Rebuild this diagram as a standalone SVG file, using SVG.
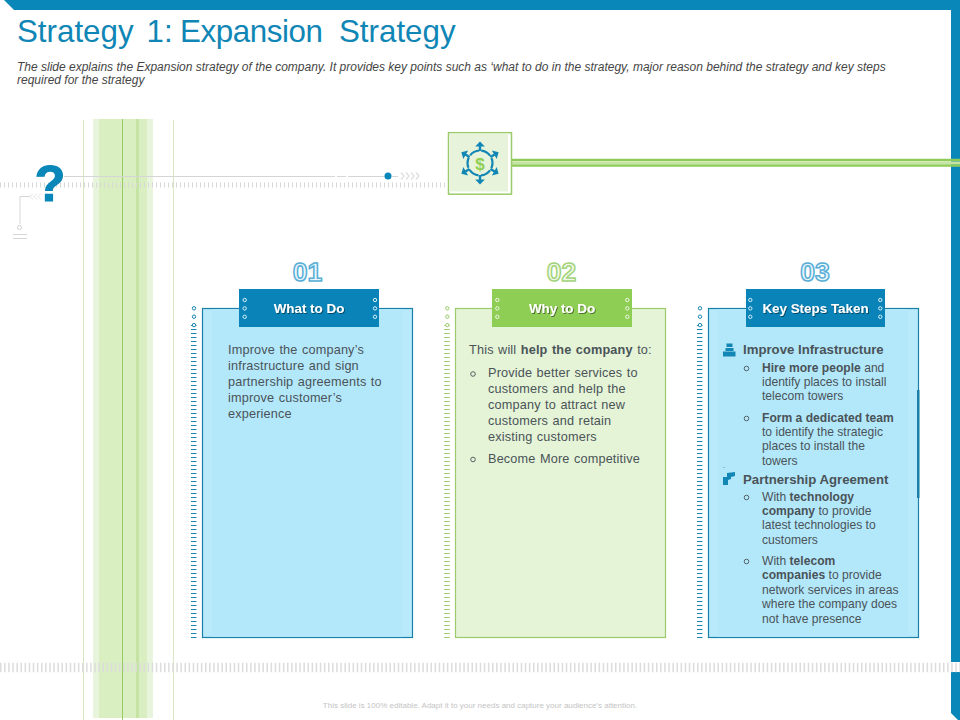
<svg xmlns="http://www.w3.org/2000/svg" width="960" height="720" viewBox="0 0 960 720">
<style>
text{font-family:"Liberation Sans",Arial,sans-serif}
.title{font-size:31.300px;fill:#0f86b5}
.sub{font-size:12px;font-style:italic;fill:#454545}
.b{font-size:12.700px;fill:#4a5358;word-spacing:.7px;letter-spacing:.17px}
.s{font-size:12.100px;fill:#4a5358}
.h{font-size:13.200px;font-weight:bold;fill:#4a5358}
.hd{font-size:13.400px;font-weight:bold;fill:#fff;text-anchor:middle;filter:url(#sh)}
.num{font-size:26.500px;font-weight:bold;text-anchor:middle;stroke-width:1.500px}
.bl{fill:none;stroke:#4a5358;stroke-width:.9}
</style>
<defs>
<filter id="sh" x="-10%" y="-20%" width="120%" height="150%"><feDropShadow dx="1" dy="1" stdDeviation=".5" flood-color="#000" flood-opacity=".45"/></filter>
<g id="dots"><circle cx="0" cy="0" r="1.700"/><circle cx="0" cy="8.400" r="1.700"/><circle cx="0" cy="16.800" r="1.700"/></g>
<g id="chev"><path d="M0 -3.500L3 0L0 3.500M5 -3.500L8 0L5 3.500M10 -3.500L13 0L10 3.500M15 -3.500L18 0L15 3.500" fill="none" stroke="#e0e0e0" stroke-width="1.400"/></g>
<g id="arrow"><path d="M0 -12V-18" stroke="#1286b4" stroke-width="2.400" fill="none"/><path d="M0 -21.500L4.800 -16.500H-4.800Z" fill="#1286b4"/></g>
</defs>
<rect width="960" height="720" fill="#fff"/>

<g id="frame">
<path d="M4 0H960V10H14Z" fill="#0987b9"/>
<path d="M951 0H960V662H951ZM951 672H960V720H958L951 713Z" fill="#0987b9"/>
</g>

<g id="vertical-band">
<rect x="93" y="119" width="60" height="599" fill="#e8f4dc"/>
<rect x="99" y="119" width="48" height="599" fill="#d9efc1"/>
<rect x="136" y="119" width="3" height="599" fill="#c5e4a3"/>
<path d="M122.500 119V720" stroke="#97cb63" stroke-width="1"/>
<path d="M83.500 120V720M173.500 120V720" stroke="#d8e6c2" stroke-width="1"/>
</g>

<g id="tick-lines">
<path d="M0 185H447" stroke="#d8d8d8" stroke-width="5" stroke-dasharray="1 3" fill="none"/>
<path d="M0 667.500H960" stroke="#dcdcdc" stroke-width="9.500" stroke-dasharray="1.500 2.600" fill="none"/>
</g>

<text x="50" y="201" font-size="50" font-weight="bold" text-anchor="middle" stroke="#0987b9" stroke-width="1.200" style="fill:#0987b9">?</text>

<g id="connectors" fill="none">
<path d="M64 176.500H335M337 176.500H346M348 176.500H385M392 176.500H398" stroke="#d6d6d6" stroke-width="1"/>
<circle cx="388" cy="176" r="3.500" fill="#0987b9"/>
<use href="#chev" x="401" y="176"/>
<path d="M30 196.500H20V224" stroke="#d6d6d6" stroke-width="1"/>
<path d="M41 193.500L38 196.500L41 199.500M37 193.500L34 196.500L37 199.500M33 193.500L30 196.500L33 199.500" stroke="#dcdcdc" stroke-width=".8"/>
<circle cx="19.500" cy="227.500" r="2" stroke="#d0d0d0" stroke-width="1"/>
<path d="M13 234.500H27M13 238.500H27" stroke="#d6d6d6" stroke-width="1"/>
<path d="M511 160H960M511 165.500H960" stroke="#8fcb58" stroke-width="2.600"/>
<path d="M511 162.800H960" stroke="#c5e4a3" stroke-width="2.800"/>
</g>

<g id="center-icon">
<rect x="448.500" y="132.700" width="63" height="61.500" fill="#fff" stroke="#9ccb6b" stroke-width="1.500"/>
<rect x="449.500" y="133.500" width="58.500" height="58" fill="#e7f4db"/>
<circle cx="480" cy="163" r="12.500" fill="none" stroke="#1286b4" stroke-width="2.200" stroke-dasharray="10.600 2.500" stroke-dashoffset="-1.250" transform="rotate(-90 480 163)"/>
<use href="#arrow" transform="translate(480 163)"/>
<use href="#arrow" transform="translate(480 163) rotate(60)"/>
<use href="#arrow" transform="translate(480 163) rotate(120)"/>
<use href="#arrow" transform="translate(480 163) rotate(180)"/>
<use href="#arrow" transform="translate(480 163) rotate(240)"/>
<use href="#arrow" transform="translate(480 163) rotate(300)"/>
<text x="480" y="169.500" font-size="17" font-weight="bold" text-anchor="middle" style="fill:#8fce55">$</text>
</g>

<text class="title" y="42"><tspan x="17">Strategy</tspan><tspan x="146.500">1:</tspan><tspan x="180" letter-spacing="-.4">Expansion</tspan><tspan x="339">Strategy</tspan></text>
<text class="sub" x="17" y="71">The slide explains the Expansion strategy of the company. It provides key points such as ‘what to do in the strategy, major reason behind the strategy and key steps</text>
<text class="sub" x="17" y="84">required for the strategy</text>

<g id="card-1">
<path d="M193.700 325V641" fill="none" stroke="#1a86b4" stroke-width="5.500" stroke-dasharray="1 3"/>
<use href="#dots" x="194" y="308.300" fill="#fff" stroke="#1a86b4" stroke-width="1"/>
<rect x="202.500" y="308.500" width="210" height="329" fill="#b9eafb" stroke="#1a80a8" stroke-width="1.200"/>
<rect x="212" y="309" width="190" height="328" fill="#b3e8fb"/>
<rect x="239" y="289" width="140" height="38" fill="#0a84b8"/>
<use href="#dots" x="244.700" y="300" fill="none" stroke="#d5f0fb" stroke-width="1"/>
<use href="#dots" x="375" y="300" fill="none" stroke="#d5f0fb" stroke-width="1"/>
<text class="hd" x="309" y="313">What to Do</text>
<text class="num" x="307.500" y="281" fill="#e8f6fc" stroke="#58aed6">01</text>
<text class="b" x="228" y="354">Improve the company’s</text>
<text class="b" x="228" y="370">infrastructure and sign</text>
<text class="b" x="228" y="386">partnership agreements to</text>
<text class="b" x="228" y="402">improve customer’s</text>
<text class="b" x="228" y="418">experience</text>
</g>

<g id="card-2">
<path d="M447 325V641" fill="none" stroke="#9ccb6b" stroke-width="5.500" stroke-dasharray="1 3"/>
<use href="#dots" x="447.300" y="308.300" fill="#fff" stroke="#9ccb6b" stroke-width="1"/>
<rect x="455.500" y="308.500" width="210" height="329" fill="#e5f3d7" stroke="#9ccb6b" stroke-width="1.200"/>
<rect x="492" y="289" width="140" height="38" fill="#8fce55"/>
<use href="#dots" x="497.300" y="300" fill="none" stroke="#eef8e4" stroke-width="1"/>
<use href="#dots" x="627.300" y="300" fill="none" stroke="#eef8e4" stroke-width="1"/>
<text class="hd" x="562" y="313">Why to Do</text>
<text class="num" x="561.500" y="281" fill="#f1f9ea" stroke="#a4d47c">02</text>
<text class="b" x="469" y="354">This will <tspan font-weight="bold">help the company</tspan> to:</text>
<circle class="bl" cx="473" cy="374" r="2.300"/>
<text class="b" x="488" y="377">Provide better services to</text>
<text class="b" x="488" y="393">customers and help the</text>
<text class="b" x="488" y="409">company to attract new</text>
<text class="b" x="488" y="425">customers and retain</text>
<text class="b" x="488" y="441">existing customers</text>
<circle class="bl" cx="473" cy="459.500" r="2.300"/>
<text class="b" x="488" y="463">Become More competitive</text>
</g>

<g id="card-3">
<path d="M699.700 325V641" fill="none" stroke="#1a86b4" stroke-width="5.500" stroke-dasharray="1 3"/>
<use href="#dots" x="700" y="308.300" fill="#fff" stroke="#1a86b4" stroke-width="1"/>
<rect x="708.500" y="308.500" width="210" height="329" fill="#b9eafb" stroke="#1a80a8" stroke-width="1.200"/>
<rect x="718" y="309" width="190" height="328" fill="#b3e8fb"/>
<rect x="917" y="390" width="2.500" height="108" fill="#1a80a8"/>
<rect x="746" y="289" width="139" height="38" fill="#0a84b8"/>
<use href="#dots" x="750.300" y="300" fill="none" stroke="#d5f0fb" stroke-width="1"/>
<use href="#dots" x="880.300" y="300" fill="none" stroke="#d5f0fb" stroke-width="1"/>
<text class="hd" x="815.500" y="313">Key Steps Taken</text>
<text class="num" x="815" y="281" fill="#e8f6fc" stroke="#58aed6">03</text>
<g fill="#1286b4">
<rect x="726.500" y="343.500" width="6" height="3.500"/><rect x="725.500" y="348" width="8" height="3"/>
<rect x="723" y="351.500" width="12.500" height="5"/>
<path d="M727 473L735 472V476L731 477V479L728 480V485H723V477H727Z"/>
</g>
<text class="h" x="743" y="354">Improve Infrastructure</text>
<circle class="bl" cx="746.500" cy="368.500" r="2.300"/>
<text class="s" x="762" y="372"><tspan font-weight="bold">Hire more people</tspan> and</text>
<text class="s" x="762" y="386">identify places to install</text>
<text class="s" x="762" y="400">telecom towers</text>
<circle class="bl" cx="746.500" cy="418.500" r="2.300"/>
<text class="s" x="762" y="422" font-weight="bold">Form a dedicated team</text>
<text class="s" x="762" y="436">to identify the strategic</text>
<text class="s" x="762" y="450">places to install the</text>
<text class="s" x="762" y="465">towers</text>
<text class="s" x="723" y="468" style="font-size:8px">.</text>
<text class="h" x="743" y="484">Partnership Agreement</text>
<circle class="bl" cx="746.500" cy="497.500" r="2.300"/>
<text class="s" x="762" y="501">With <tspan font-weight="bold">technology</tspan></text>
<text class="s" x="762" y="515"><tspan font-weight="bold">company</tspan> to provide</text>
<text class="s" x="762" y="529">latest technologies to</text>
<text class="s" x="762" y="544">customers</text>
<circle class="bl" cx="746.500" cy="561.500" r="2.300"/>
<text class="s" x="762" y="565">With <tspan font-weight="bold">telecom</tspan></text>
<text class="s" x="762" y="579"><tspan font-weight="bold">companies</tspan> to provide</text>
<text class="s" x="762" y="594">network services in areas</text>
<text class="s" x="762" y="608">where the company does</text>
<text class="s" x="762" y="623">not have presence</text>
</g>

<text x="480" y="708" font-size="8" text-anchor="middle" style="fill:#c4c4c4">This slide is 100% editable. Adapt it to your needs and capture your audience’s attention.</text>
</svg>
